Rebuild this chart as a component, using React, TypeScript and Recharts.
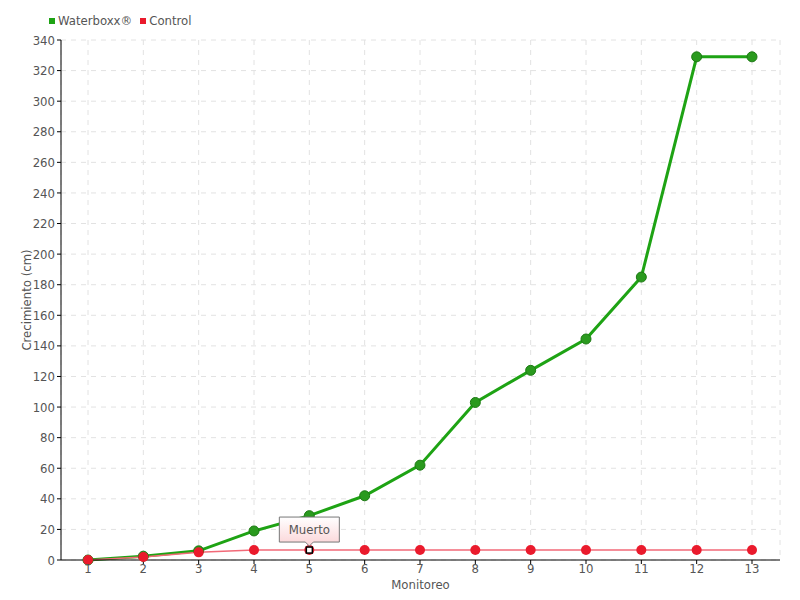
import React from "react";
import { LineChart, Line, XAxis, YAxis, CartesianGrid } from "recharts";

const categories = ["1", "2", "3", "4", "5", "6", "7", "8", "9", "10", "11", "12", "13"];
const waterboxx = [0, 2.5, 6, 19, 29, 42, 62, 103, 124, 144.5, 185, 329, 329];
const control = [0, 2, 5, 6.5, 6.5, 6.5, 6.5, 6.5, 6.5, 6.5, 6.5, 6.5, 6.5];
const yTicks = [0, 20, 40, 60, 80, 100, 120, 140, 160, 180, 200, 220, 240, 260, 280, 300, 320, 340];
const deadIndex = 4;
const deadLabel = "Muerto";

const data = categories.map((c, i) => ({ cat: c, waterboxx: waterboxx[i], control: control[i] }));

const FONT = "'DejaVu Sans Condensed', 'Liberation Sans Narrow', sans-serif";
const GREEN = "#1ea314";
const RED = "#ea1a2c";

const ControlDot = (props: any) => {
  const { cx, cy, index } = props;
  if (cx == null || cy == null) return null;
  if (index === deadIndex) {
    return (
      <g>
        <circle cx={cx} cy={cy} r={5} fill={RED} />
        <rect x={cx - 3} y={cy - 3} width={6} height={6} fill="#fff" stroke="#000" strokeWidth={1.5} />
        <g>
          <defs>
            <linearGradient id="tipGrad" x1="0" y1="0" x2="0" y2="1">
              <stop offset="0%" stopColor="#ffffff" />
              <stop offset="100%" stopColor="#fbd3d6" />
            </linearGradient>
          </defs>
          <path
            d={`M ${cx - 30} ${cy - 33} L ${cx + 30} ${cy - 33} L ${cx + 30} ${cy - 8} L ${cx + 4} ${cy - 8} L ${cx} ${cy - 4} L ${cx - 4} ${cy - 8} L ${cx - 30} ${cy - 8} Z`}
            fill="url(#tipGrad)"
            stroke="#777"
            strokeWidth={1}
          />
          <text x={cx} y={cy - 16} textAnchor="middle" fontFamily={FONT} fontSize={13} fill="#555">
            {deadLabel}
          </text>
        </g>
      </g>
    );
  }
  return <circle cx={cx} cy={cy} r={5} fill={RED} />;
};

const GreenDot = (props: any) => {
  const { cx, cy } = props;
  if (cx == null || cy == null) return null;
  return <circle cx={cx} cy={cy} r={5} fill="#2a9a1e" stroke="#1d7a14" strokeWidth={1} />;
};

export default function App() {
  return (
    <div style={{ position: "absolute", left: 0, top: 0, width: 800, height: 600, background: "#fff" }}>
      <div style={{ position: "absolute", left: 49, top: 13, fontFamily: FONT, fontSize: 13, color: "#555", display: "flex", alignItems: "center" }}>
        <span style={{ display: "inline-block", width: 6, height: 6, background: GREEN, marginRight: 3 }} />
        <span style={{ marginRight: 8 }}>Waterboxx®</span>
        <span style={{ display: "inline-block", width: 6, height: 6, background: RED, marginRight: 3 }} />
        <span>Control</span>
      </div>
      <LineChart width={800} height={600} data={data} margin={{ top: 40, right: 20, left: 0, bottom: 0 }}>
        <CartesianGrid stroke="#e2e2e2" strokeDasharray="5 5" />
        <XAxis
          dataKey="cat"
          padding={{ left: 27, right: 28 }}
          stroke="#000"
          tickLine={{ stroke: "#000" }}
          tickSize={4}
          interval={0}
          height={40}
          tick={{ fill: "#555", fontFamily: FONT, fontSize: 13, dy: -2 }}
          label={{ value: "Monitoreo", position: "insideBottom", offset: 11, fill: "#555", fontFamily: FONT, fontSize: 13 }}
        />
        <YAxis
          domain={[0, 340]}
          ticks={yTicks}
          interval={0}
          width={61}
          stroke="#000"
          tickSize={4}
          tick={{ fill: "#555", fontFamily: FONT, fontSize: 13 }}
          label={{ value: "Crecimiento (cm)", angle: -90, position: "insideLeft", offset: 26, fill: "#555", fontFamily: FONT, fontSize: 13, style: { textAnchor: "middle" } }}
        />
        <Line
          dataKey="waterboxx"
          stroke={GREEN}
          strokeWidth={3}
          dot={<GreenDot />}
          isAnimationActive={false}
          type="linear"
        />
        <Line
          dataKey="control"
          stroke="#f26a78"
          strokeWidth={1.5}
          dot={<ControlDot />}
          isAnimationActive={false}
          type="linear"
        />
      </LineChart>
    </div>
  );
}
